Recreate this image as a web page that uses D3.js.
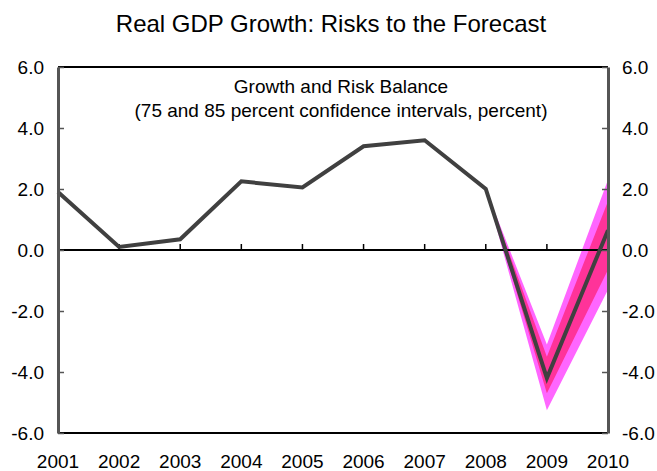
<!DOCTYPE html>
<html lang="en">
<head>
    <meta charset="UTF-8">
    <title>Real GDP Growth</title>
    <script src="https://cdn.jsdelivr.net/npm/d3@7"></script>
    <style>
        body { margin: 0; background: #fff; }
        text { font-family: "Liberation Sans", Arial, sans-serif; fill: #000; }
    </style>
</head>
<body>
<div id="main"></div>
<script>
    // 데이터
    const years = [2001, 2002, 2003, 2004, 2005, 2006, 2007, 2008, 2009, 2010];
    const growth = [1.9, 0.1, 0.35, 2.25, 2.05, 3.4, 3.6, 2.0, -4.2, 0.65];

    // 위험 구간 (2008 ~ 2010)
    const fanYears = [2008, 2009, 2010];
    const band85Low = [2.0, -5.25, -1.3];
    const band85High = [2.0, -3.1, 2.3];
    const band75Low = [2.0, -4.7, -0.65];
    const band75High = [2.0, -3.5, 1.6];

    const yTicks = [-6, -4, -2, 0, 2, 4, 6];

    const W = 657, H = 471;
    const m = {left: 58, right: 49, top: 67, bottom: 38};

    const svg = d3.select('#main').append('svg')
        .attr('width', W).attr('height', H);

    const x = d3.scaleLinear().domain([2001, 2010]).range([m.left, W - m.right]);
    const y = d3.scaleLinear().domain([-6, 6]).range([H - m.bottom, m.top]);

    // 제목
    svg.append('text')
        .attr('x', 331).attr('y', 32)
        .attr('text-anchor', 'middle')
        .style('font-size', '24px')
        .text('Real GDP Growth: Risks to the Forecast');

    svg.append('text')
        .attr('x', 341).attr('y', 93)
        .attr('text-anchor', 'middle')
        .style('font-size', '19px')
        .text('Growth and Risk Balance');
    svg.append('text')
        .attr('x', 341).attr('y', 117)
        .attr('text-anchor', 'middle')
        .style('font-size', '19px')
        .text('(75 and 85 percent confidence intervals, percent)');

    // fan
    const area = (lo, hi) => d3.area()
        .x((d, i) => x(fanYears[i]))
        .y0((d, i) => y(lo[i]))
        .y1((d, i) => y(hi[i]));

    svg.append('path')
        .datum(fanYears)
        .attr('d', area(band85Low, band85High))
        .attr('fill', '#ff66ff');
    svg.append('path')
        .datum(fanYears)
        .attr('d', area(band75Low, band75High))
        .attr('fill', '#ff3399');

    // 0 line + ticks
    svg.append('line')
        .attr('x1', x(2001)).attr('x2', x(2010))
        .attr('y1', y(0)).attr('y2', y(0))
        .attr('stroke', '#000').attr('stroke-width', 2);

    svg.selectAll('.xtick')
        .data(years.slice(1, -1))
        .enter().append('line')
        .attr('x1', d => x(d)).attr('x2', d => x(d))
        .attr('y1', y(0)).attr('y2', y(0) - 6)
        .attr('stroke', '#000').attr('stroke-width', 1.5);

    // GDP line
    svg.append('path')
        .datum(growth)
        .attr('d', d3.line().x((d, i) => x(years[i])).y(d => y(d)))
        .attr('fill', 'none')
        .attr('stroke', '#404040')
        .attr('stroke-width', 4)
        .attr('stroke-linejoin', 'miter');

    // 테두리
    svg.append('line')
        .attr('x1', x(2001)).attr('x2', x(2010))
        .attr('y1', y(6)).attr('y2', y(6))
        .attr('stroke', '#000').attr('stroke-width', 2);
    svg.append('line')
        .attr('x1', x(2001)).attr('x2', x(2010))
        .attr('y1', y(-6)).attr('y2', y(-6))
        .attr('stroke', '#000').attr('stroke-width', 2);

    const leftAxis = d3.axisLeft(y).tickValues(yTicks).tickSizeInner(-6).tickSizeOuter(0)
        .tickPadding(14).tickFormat(d3.format('.1f'));
    const rightAxis = d3.axisRight(y).tickValues(yTicks).tickSizeInner(-6).tickSizeOuter(0)
        .tickPadding(14).tickFormat(d3.format('.1f'));

    const gl = svg.append('g').attr('transform', `translate(${x(2001)},0)`).call(leftAxis);
    const gr = svg.append('g').attr('transform', `translate(${x(2010)},0)`).call(rightAxis);
    [gl, gr].forEach(g => {
        g.select('.domain').attr('stroke', '#555').attr('stroke-width', 3);
        g.selectAll('.tick line').attr('stroke', '#555').attr('stroke-width', 1.5);
        g.selectAll('.tick text').style('font-size', '19px').attr('fill', '#000')
            .text(d => d3.format('.1f')(d).replace('−', '-'));
    });

    // 연도 라벨
    svg.selectAll('.xlab')
        .data(years)
        .enter().append('text')
        .attr('x', d => x(d)).attr('y', 468)
        .attr('text-anchor', 'middle')
        .style('font-size', '19px')
        .text(d => d);
</script>
</body>
</html>
